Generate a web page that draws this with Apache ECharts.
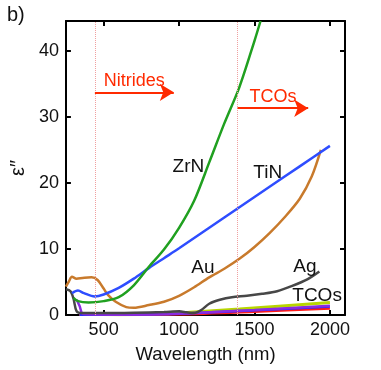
<!DOCTYPE html>
<html>
<head>
<meta charset="utf-8">
<script src="https://cdn.jsdelivr.net/npm/echarts@6/dist/echarts.min.js"></script>
<style>
  html, body { margin: 0; padding: 0; background: #fff; }
  #chart-container { width: 381px; height: 370px; }
</style>
</head>
<body>
<div id="chart-container"></div>
<script>
// values: [wavelength (nm), eps'']
var zrn = [[300, 2.6], [330, 2.1], [400, 1.9], [500, 2.1], [600, 2.7], [700, 4.5], [800, 7.3], [900, 9.9],
    [1000, 13.2], [1100, 17.3], [1200, 23.1], [1300, 29.0], [1400, 34.5], [1500, 41.5], [1540, 44.5]];
var tin = [[290, 3.3], [330, 3.7], [370, 3.3], [440, 2.8], [500, 3.1], [600, 4.1], [700, 5.5], [800, 7.1],
    [900, 8.6], [1000, 10.1], [1200, 13.2], [1400, 16.3], [1600, 19.4], [1800, 22.5], [2000, 25.6]];
var au = [[250, 4.3], [270, 5.1], [290, 5.8], [320, 5.5], [360, 5.6], [420, 5.7], [460, 5.3], [500, 4.0],
    [530, 3.0], [580, 2.0], [650, 1.2], [700, 1.1], [800, 1.5], [900, 2.0], [1000, 2.9], [1100, 4.2],
    [1200, 5.7], [1300, 7.0], [1400, 8.5], [1500, 10.3], [1600, 12.4], [1700, 14.8], [1800, 17.6],
    [1880, 21.0], [1940, 25.0]];
var ag = [[250, 3.9], [280, 3.6], [300, 2.5], [320, 0.6], [350, 0.3], [500, 0.3], [700, 0.35], [900, 0.45],
    [1000, 0.55], [1050, 0.4], [1100, 0.3], [1150, 0.8], [1200, 1.7], [1270, 2.3], [1350, 2.7], [1450, 2.9],
    [1550, 3.2], [1650, 3.6], [1750, 4.4], [1850, 5.4], [1930, 6.6]];
var tcoGreen = [[340, 0.1], [600, 0.05], [900, 0.15], [1100, 0.45], [1400, 0.9], [2000, 1.9]];
var tcoViolet = [[322, 2.3], [340, 1.4], [365, 0.15], [600, 0.05], [1000, 0.2], [1500, 0.75], [2000, 1.4]];
var tcoBlue = [[340, 0.05], [1000, 0.2], [1500, 0.7], [2000, 1.3]];
var tcoRed = [[340, 0.02], [1000, 0.1], [1500, 0.5], [2000, 1.0]];

var xTicks = [500, 1000, 1500, 2000];
var dividers = [442, 1388];
var arrows = [
    {name: 'Nitrides', from: [442, 33.7], to: [965, 33.7]},
    {name: 'TCOs', from: [1388, 31.3], to: [1856, 31.3]}
];
var curveLabels = [
    {name: 'ZrN', at: [1062, 22.5]},
    {name: 'TiN', at: [1588, 21.5]},
    {name: 'Au', at: [1158, 7.1]},
    {name: 'Ag', at: [1834, 7.3]},
    {name: 'TCOs', at: [1915, 2.9]}
];

var font = 'Liberation Sans, Arial, sans-serif';
var red = '#ff2a00';

function line(data, color, width) {
    return {
        type: 'line',
        data: data,
        showSymbol: false,
        smooth: 0.3,
        silent: true,
        lineStyle: {color: color, width: width || 2.5},
        z: 3
    };
}

var dom = document.getElementById('chart-container');
var myChart = echarts.init(dom, null, {renderer: 'canvas'});

var series = [
    line(tcoGreen, '#b8d600', 3),
    line(tcoRed, '#ff1a1a', 2.5),
    line(tcoBlue, '#2a2aff', 2.5),
    line(tcoViolet, '#8a2be2', 2.5),
    line(ag, '#474747', 2.5),
    line(au, '#c87a2c', 2.5),
    line(tin, '#2e4dff', 2.5),
    line(zrn, '#20a020', 2.5)
];

// dotted dividers
series.push({
    type: 'line',
    data: [],
    silent: true,
    markLine: {
        silent: true,
        animation: false,
        symbol: ['none', 'none'],
        lineStyle: {type: 'dotted', color: '#f0a0a0', width: 1},
        label: {show: false},
        data: dividers.map(function (x) {
            return {xAxis: x};
        })
    }
});

// arrows and curve names
series.push({
    type: 'line',
    data: [],
    silent: true,
    markLine: {
        silent: true,
        animation: false,
        symbol: ['none', 'arrow'],
        symbolSize: [13, 14],
        lineStyle: {type: 'solid', color: red, width: 2},
        data: arrows.map(function (a) {
            return [
                {
                    coord: a.from,
                    label: {
                        show: true, formatter: a.name, position: 'insideMiddleTop',
                        color: red, fontSize: 18, fontFamily: font, distance: 2
                    }
                },
                {coord: a.to}
            ];
        })
    },
    markPoint: {
        silent: true,
        animation: false,
        symbol: 'circle',
        symbolSize: 0,
        data: curveLabels.map(function (l) {
            return {
                coord: l.at,
                label: {show: true, formatter: l.name, position: 'inside', color: '#111', fontSize: 19, fontFamily: font}
            };
        })
    }
});

function plain(v) {
    return String(v);
}

var option = {
    animation: false,
    title: {
        text: 'b)', left: 2, top: 0,
        textStyle: {fontSize: 20, fontWeight: 'normal', color: '#111', fontFamily: font}
    },
    grid: {left: 57, right: 36, top: 21, bottom: 55},
    xAxis: [{
        type: 'value', min: 250, max: 2100,
        name: 'Wavelength (nm)', nameLocation: 'middle', nameGap: 30,
        nameTextStyle: {fontSize: 18.5, color: '#111', fontFamily: font},
        axisLine: {show: true, onZero: false, lineStyle: {color: '#000', width: 2}},
        axisTick: {show: true, inside: true, length: 5, customValues: xTicks, lineStyle: {color: '#000', width: 2}},
        axisLabel: {customValues: xTicks, formatter: plain, fontSize: 18, color: '#111', fontFamily: font, margin: 6},
        splitLine: {show: false}
    }, {
        type: 'value', min: 250, max: 2100, position: 'top',
        axisLine: {show: true, onZero: false, lineStyle: {color: '#000', width: 2}},
        axisTick: {show: true, inside: true, length: 5, customValues: xTicks, lineStyle: {color: '#000', width: 2}},
        axisLabel: {show: false},
        splitLine: {show: false}
    }],
    yAxis: [{
        type: 'value', min: 0, max: 44.5, interval: 10,
        name: 'ε\u2033', nameLocation: 'middle', nameGap: 33, nameRotate: 90,
        nameTextStyle: {fontSize: 20, color: '#111', fontFamily: font},
        axisLine: {show: true, onZero: false, lineStyle: {color: '#000', width: 2}},
        axisTick: {show: true, inside: true, length: 5, lineStyle: {color: '#000', width: 2}},
        axisLabel: {fontSize: 18, color: '#111', fontFamily: font, margin: 7, showMaxLabel: false},
        splitLine: {show: false}
    }, {
        type: 'value', min: 0, max: 44.5, interval: 10, position: 'right',
        axisLine: {show: true, onZero: false, lineStyle: {color: '#000', width: 2}},
        axisTick: {show: true, inside: true, length: 5, lineStyle: {color: '#000', width: 2}},
        axisLabel: {show: false},
        splitLine: {show: false}
    }],
    series: series
};

myChart.setOption(option);
window.addEventListener('resize', myChart.resize);
</script>
</body>
</html>
